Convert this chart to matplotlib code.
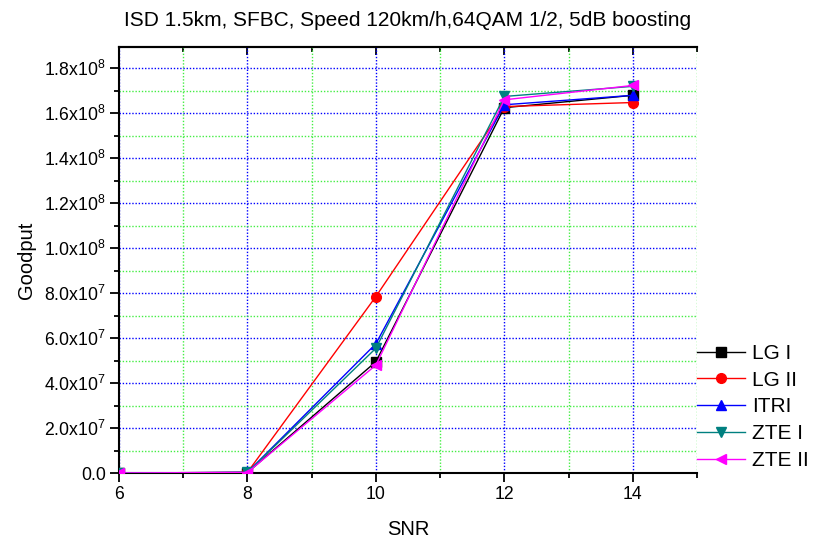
import math
import matplotlib
matplotlib.use("Agg")
import matplotlib.pyplot as plt
from matplotlib.ticker import MultipleLocator, FuncFormatter

plt.rcParams['font.family'] = ['Liberation Sans', 'DejaVu Sans']
plt.rcParams['mathtext.fontset'] = 'custom'
plt.rcParams['mathtext.rm'] = 'Liberation Sans'
plt.rcParams['mathtext.it'] = 'Liberation Sans'

snr = [6, 8, 10, 12, 14]
lg1 = [0.0, 2.0e5, 4.95e7, 1.625e8, 1.680e8]
lg2 = [0.0, 3.0e5, 7.85e7, 1.630e8, 1.648e8]
itri = [0.0, 3.0e5, 5.75e7, 1.638e8, 1.680e8]
zte1 = [0.0, 2.5e5, 5.55e7, 1.675e8, 1.720e8]
zte2 = [0.0, 2.0e5, 4.80e7, 1.660e8, 1.724e8]

series = [
    ("LG I", lg1, "black", "s"),
    ("LG II", lg2, "red", "o"),
    ("ITRI", itri, "blue", "^"),
    ("ZTE I", zte1, "#008080", "v"),
    ("ZTE II", zte2, "magenta", "<"),
]

title = "ISD 1.5km, SFBC, Speed 120km/h,64QAM 1/2, 5dB boosting"

fig = plt.figure(figsize=(8.25, 5.4), dpi=100)
ax = fig.add_axes([119/825, 1-473/540, (697-119)/825, (473-47)/540])

for name, vals, col, mk in series:
    ax.plot(snr, vals, color=col, marker=mk, markersize=7, linewidth=1,
            label=name, zorder=3)

ax.set_xlim(6, 15)
ax.set_ylim(0, 1.895e8)

ax.xaxis.set_major_locator(MultipleLocator(2))
ax.xaxis.set_minor_locator(MultipleLocator(1))
ax.yaxis.set_major_locator(MultipleLocator(2e7))
ax.yaxis.set_minor_locator(MultipleLocator(1e7))


def fmt_y(v, pos):
    if abs(v) < 1:
        return "0.0"
    e = int(math.floor(math.log10(abs(v))))
    m = v / 10**e
    return r"%.1fx10$^{%d}$" % (m, e)


ax.yaxis.set_major_formatter(FuncFormatter(fmt_y))

ax.grid(which="major", color="blue", linestyle=(0, (1, 1.3)), linewidth=1)
ax.grid(which="minor", color="#44ee44", linestyle=(0, (1, 1.3)), linewidth=1)
ax.set_axisbelow(True)

ax.spines['right'].set_visible(False)
for s in ['left', 'bottom', 'top']:
    ax.spines[s].set_linewidth(1.5)

ax.tick_params(which="major", direction="out", length=6.5, width=1.3,
               labelsize=12.7, top=False, right=False, pad=3)
ax.tick_params(which="minor", direction="out", length=3.5, width=1.3,
               top=False, right=False)

# inward ticks on the top edge
sec = ax.secondary_xaxis('top')
sec.xaxis.set_major_locator(MultipleLocator(2))
sec.xaxis.set_minor_locator(MultipleLocator(1))
sec.tick_params(which="major", direction="in", length=6, width=1.3, labeltop=False)
sec.tick_params(which="minor", direction="in", length=3.5, width=1.3)
sec.spines['top'].set_linewidth(1.5)

ax.set_xlabel("SNR", fontsize=14.5, labelpad=12)
ax.set_ylabel("Goodput", fontsize=14.5, labelpad=6)
fig.text((119 + 697) / 2 / 825, 1 - 20/540, title, ha="center",
         va="center", fontsize=15)

leg = ax.legend(loc="upper left", bbox_to_anchor=(1.0, 1 - (344 - 47) / (473 - 47)),
                frameon=False, fontsize=15, handlelength=2.3, handletextpad=0.34,
                borderaxespad=0, borderpad=0, labelspacing=0.37)

fig.savefig("out.png", dpi=100)
